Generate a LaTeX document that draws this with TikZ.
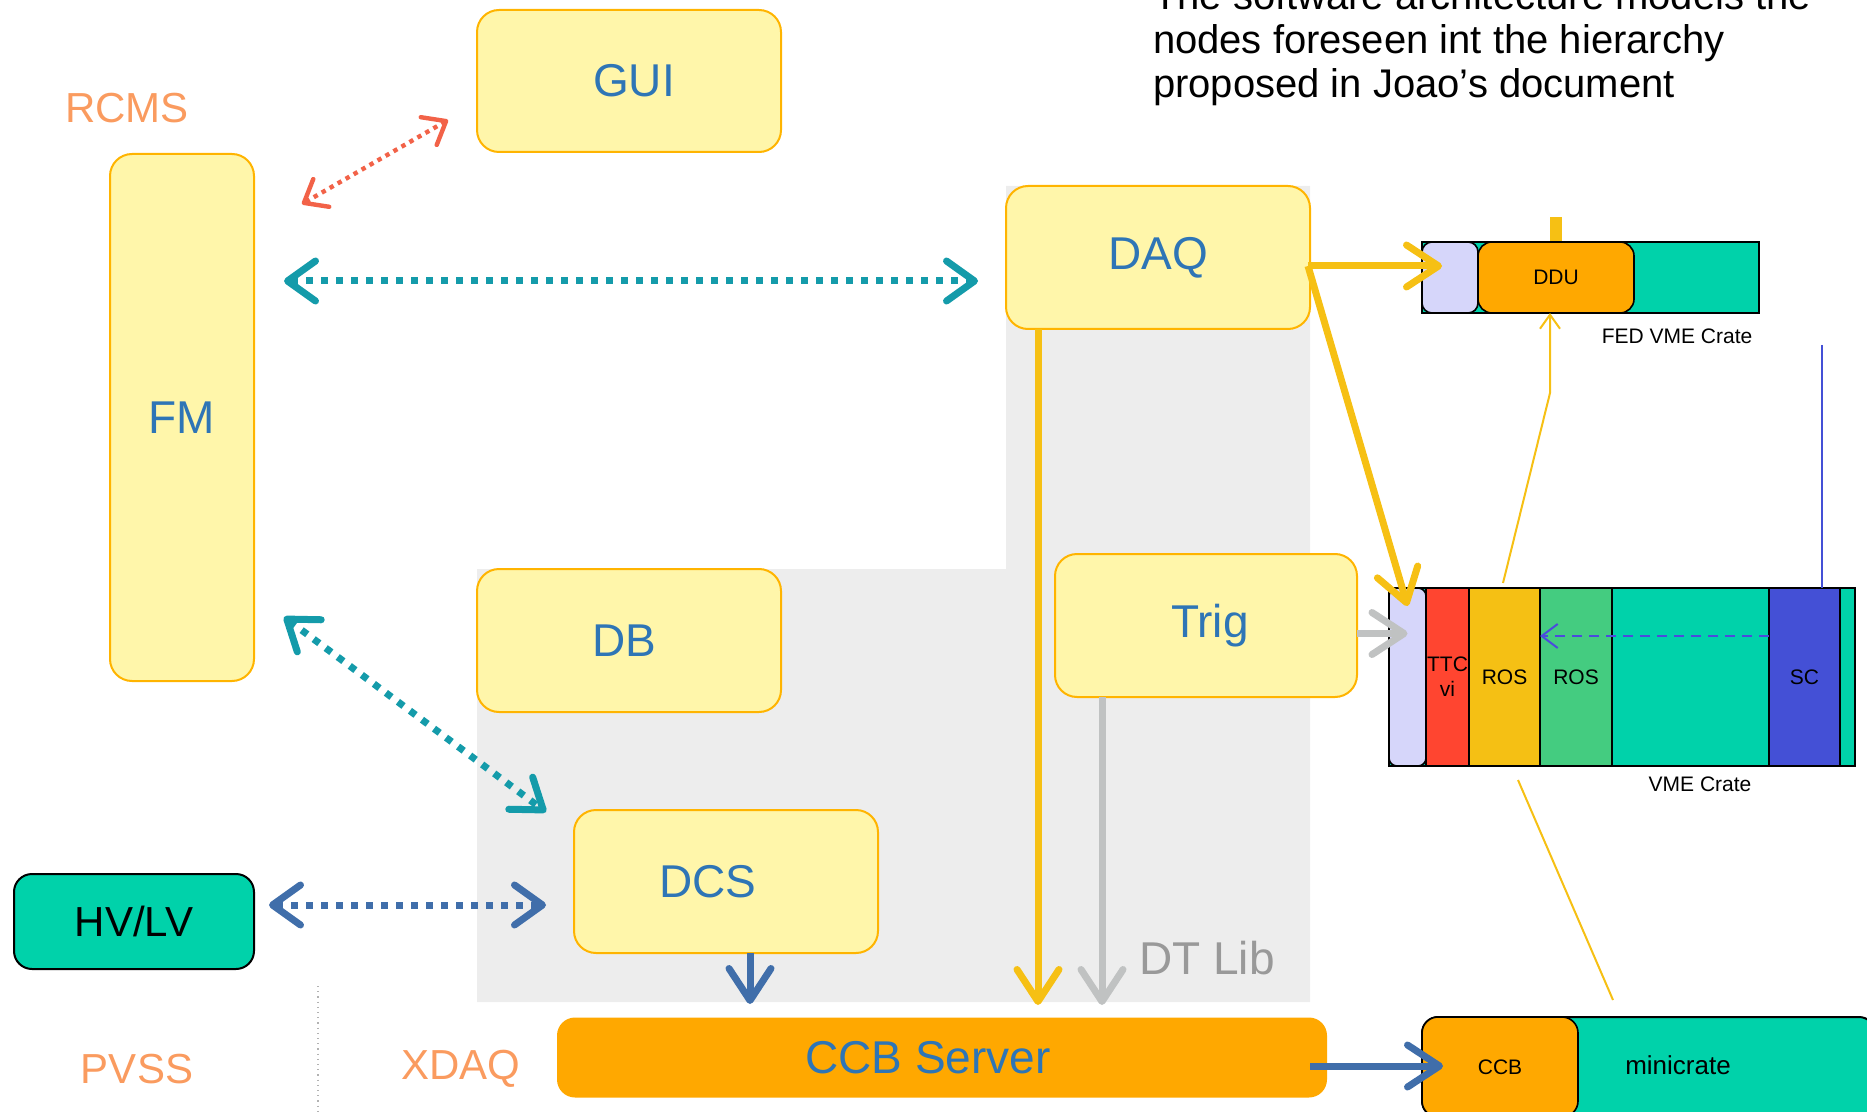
\documentclass[tikz,border=0pt]{standalone}
\usepackage{fontspec}
\setmainfont{Liberation Sans}
\usetikzlibrary{arrows.meta}
\definecolor{boxfill}{RGB}{255,246,170}
\definecolor{boxline}{RGB}{255,180,0}
\definecolor{boxtext}{RGB}{46,117,182}
\definecolor{bgc}{RGB}{237,237,237}
\definecolor{tagc}{RGB}{250,155,95}
\definecolor{libc}{RGB}{153,153,153}
\definecolor{tealc}{RGB}{0,210,170}
\definecolor{lav}{RGB}{214,214,250}
\definecolor{ttcc}{RGB}{255,69,48}
\definecolor{rosac}{RGB}{245,192,20}
\definecolor{rosbc}{RGB}{68,204,128}
\definecolor{scc}{RGB}{68,80,214}
\definecolor{ccbc}{RGB}{255,168,0}
\definecolor{yelc}{RGB}{246,192,20}
\definecolor{greyc}{RGB}{192,194,194}
\definecolor{dotteal}{RGB}{20,155,170}
\definecolor{dotred}{RGB}{242,98,72}
\definecolor{bluec}{RGB}{64,110,170}
\definecolor{dashc}{RGB}{75,75,220}

\begin{document}
\begin{tikzpicture}[x=0.5pt,y=-0.5pt,
  every node/.style={inner sep=0pt,outer sep=0pt},
  ctrl/.style={draw=boxline,fill=boxfill,line width=1pt,rounded corners=11pt,
    text=boxtext,font=\fontsize{23}{27}\selectfont},
  hw/.style={draw=black,fill=tealc,line width=1pt,rounded corners=9pt,
    font=\fontsize{21}{25}\selectfont},
  server/.style={fill=ccbc,rounded corners=9pt,text=boxtext,font=\fontsize{23}{27}\selectfont},
  crate/.style={draw=black,fill=tealc,line width=1pt},
  slot/.style={draw=black,line width=0.8pt,font=\fontsize{10.5}{12.5}\selectfont},
  note/.style={font=\fontsize{10.5}{12.5}\selectfont},
  tag/.style={text=tagc,font=\fontsize{21}{25}\selectfont},
  libtag/.style={text=libc,font=\fontsize{23}{27}\selectfont},
  remark/.style={anchor=base west,font=\fontsize{20}{24}\selectfont},
  ddot/.style={line width=3.5pt,dash pattern=on 3.5pt off 4pt,
    {Straight Barb[round,length=14pt,width=20pt]}-{Straight Barb[round,length=14pt,width=20pt]}},
  rdot/.style={draw=dotred,line width=2.2pt,dash pattern=on 2.2pt off 2.4pt,
    {Straight Barb[round,length=10pt,width=16pt]}-{Straight Barb[round,length=10pt,width=16pt]}},
  fat/.style={line width=3.5pt,-{Straight Barb[round,length=16pt,width=21pt]}},
  thinyel/.style={draw=yelc,line width=1pt},
  dasharr/.style={draw=dashc,line width=1pt,dash pattern=on 5pt off 3.5pt,
    -{Straight Barb[length=8pt,width=12pt]}}]

\useasboundingbox (0,0) rectangle (1867,1112);

% ---- shaded xdaq region ---------------------------------------------------
\fill[bgc] (1006,186) -- (1310,186) -- (1310,1002) -- (477,1002)
  -- (477,569) -- (1006,569) -- cycle;

% ---- remark, top right ----------------------------------------------------
\node[remark] (rem1) at (1153,10) {The software architecture models the};
\node[remark] (rem2) at (1153,54) {nodes foreseen int the hierarchy};
\node[remark] (rem3) at (1153,98) {proposed in Joao's document};

% ---- layer tags -----------------------------------------------------------
\node[tag] (rcms) at (127,108) {RCMS};
\node[tag] (pvss) at (137,1069) {PVSS};
\node[tag] (xdaq) at (461,1069) {XDAQ};
\node[libtag] (dtlib) at (1207,958) {DT Lib};
\draw[gray!60,line width=0.6pt,dotted] (318,986) -- (318,1112);

% ---- control nodes --------------------------------------------------------
\node[ctrl,minimum width=152pt,minimum height=71pt] (GUI) at (629,81) {\rule{5pt}{0pt}GUI};
\node[ctrl,minimum width=72pt,minimum height=263.5pt] (FM) at (182,417.5) {FM};
\node[ctrl,minimum width=152pt,minimum height=71.5pt] (DAQ) at (1158,257.5) {DAQ};
\node[ctrl,minimum width=152pt,minimum height=71.5pt] (DB) at (629,640.5) {DB\rule{5pt}{0pt}};
\node[ctrl,minimum width=151pt,minimum height=71.5pt] (Trig) at (1206,625.5) {\rule{4pt}{0pt}Trig};
\node[ctrl,minimum width=152pt,minimum height=71.5pt] (DCS) at (726,881.5) {DCS\rule{18pt}{0pt}};
\node[hw,minimum width=120pt,minimum height=47.5pt] (HVLV) at (134,921.5) {HV/LV};
\node[server,minimum width=385pt,minimum height=40pt] (Server) at (942,1057.5) {CCB Server\rule{14pt}{0pt}};

% ---- FED VME crate --------------------------------------------------------
\fill[yelc] (1550,217) rectangle (1562,242);
\node[crate,minimum width=168.5pt,minimum height=35.5pt] (fed) at (1590.5,277.5) {};
\node[slot,fill=lav,rounded corners=5pt,minimum width=28pt,minimum height=35.5pt] (fedlav) at (1450,277.5) {};
\node[slot,fill=ccbc,rounded corners=7pt,minimum width=78pt,minimum height=35.5pt] (ddu) at (1556,277.5) {DDU};
\node[note] (fedlbl) at (1677,336) {FED VME Crate};

% ---- VME crate ------------------------------------------------------------
\node[crate,minimum width=233pt,minimum height=89pt] (vme) at (1622,677) {};
\node[slot,fill=lav,rounded corners=4pt,minimum width=18.5pt,minimum height=89pt] (vmelav) at (1407.5,677) {};
\foreach \nm/\cx/\w/\col/\txt in {ttc/1447.5/21.5/ttcc/{TTC\\vi},
    rosA/1504.5/35.5/rosac/ROS, rosB/1576/36/rosbc/ROS, sc/1804.5/35.5/scc/SC} {
  \node[slot,fill=\col,minimum width=\w pt,minimum height=89pt,align=center] (\nm) at (\cx,677) {\txt};
}
\node[note] (vmelbl) at (1700,784) {VME Crate};

% ---- minicrate ------------------------------------------------------------
\node[crate,rounded corners=8pt,minimum width=226.5pt,minimum height=50pt] (mini) at (1648.5,1067) {};
\node[slot,fill=ccbc,rounded corners=8pt,minimum width=78pt,minimum height=50pt] (CCB) at (1500,1067) {CCB};
\node[note,font=\fontsize{13}{15}\selectfont] (minilbl) at (1678,1065) {minicrate};

% ---- connectors -----------------------------------------------------------
\coordinate (fmgui) at (302,204);  \coordinate (guifm) at (448,120);
\coordinate (fmdaq) at (284,281);  \coordinate (daqfm) at (978,281);
\coordinate (fmdcs) at (284,617);  \coordinate (dcsfm) at (546,812);
\coordinate (hvdcs) at (269,905);  \coordinate (dcshv) at (546,905);
\draw[rdot] (fmgui) -- (guifm);
\draw[ddot,dotteal] (fmdaq) -- (daqfm);
\draw[ddot,dotteal] (fmdcs) -- (dcsfm);
\draw[ddot,bluec] (hvdcs) -- (dcshv);

\coordinate (dcsdn) at (750,1004);
\draw[fat,bluec] (DCS.south -| dcsdn) -- (dcsdn);
\coordinate (daqdn) at (1038,1005);
\draw[fat,yelc] (DAQ.south -| daqdn) -- (daqdn);
\coordinate (trigdn) at (1102,1005);
\draw[fat,greyc] (Trig.south -| trigdn) -- (trigdn);

\coordinate (daqout) at (1308,266);
\coordinate (fedin) at (1442,266);
\draw[fat,yelc] (daqout) -- (fedin);
\draw[fat,yelc] (daqout) -- ([yshift=-9pt]vmelav.north);
\coordinate (trigout) at ([yshift=-4pt]Trig.east);
\draw[fat,greyc] (trigout) -- (trigout -| vmelav.center);
\coordinate (srvout) at (1310,1066);
\coordinate (ccbin) at (1443,1066);
\draw[fat,bluec] (srvout) -- (ccbin);

\coordinate (rosup) at (1503,583);
\coordinate (kink) at (1550,393);
\draw[thinyel,-{Straight Barb[length=7pt,width=10pt]}] (rosup) -- (kink) -- (kink |- ddu.south);
\coordinate (roslow) at (1518,780);
\coordinate (minitop) at (1613,1000);
\draw[thinyel] (roslow) -- (minitop);
\coordinate (sctop) at (1822,345);
\draw[scc,line width=1pt] (sctop) -- (sctop |- sc.north);
\coordinate (scy) at (0,636);
\draw[dasharr] (sc.west |- scy) -- (rosA.east |- scy);
\end{tikzpicture}
\end{document}
